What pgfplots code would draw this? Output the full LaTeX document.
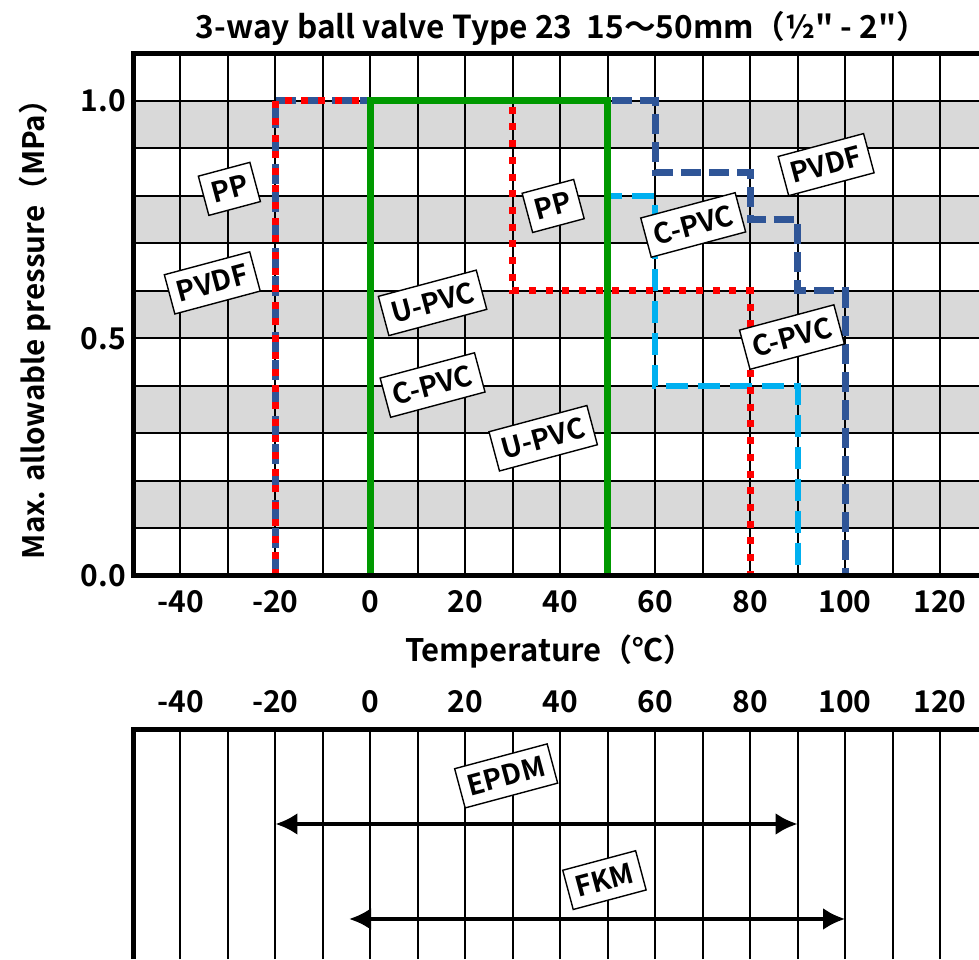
\documentclass[border=0pt]{standalone}
\usepackage{fontspec}
\setmainfont{Noto Sans CJK JP}[BoldFont={Noto Sans CJK JP Bold}, Ligatures=TeXOff]
\usepackage{pgfplots}
\pgfplotsset{compat=1.18}
\usetikzlibrary{arrows.meta}
\definecolor{pvdf}{RGB}{47,85,151}
\definecolor{cpvc}{RGB}{0,176,240}
\definecolor{upvc}{RGB}{0,153,0}
\definecolor{band}{RGB}{217,217,217}
\tikzset{lbl/.style={rotate=15, fill=white, draw=black, line width=0.7pt,
  font=\fontsize{14}{16}\selectfont\bfseries, inner xsep=4pt, inner ysep=5pt,
  text height=10.3pt, text depth=0pt}}
\begin{document}
\begin{tikzpicture}
\pgfplotsset{
  common/.style={scale only axis, width=423pt, xmin=-50, xmax=128.2,
    xtick={-40,-20,...,120}, minor xtick={-50,-30,...,130},
    major tick length=0pt, minor tick length=0pt,
    axis line style={draw=none}, clip=false, set layers,
    major grid style={black, line width=1pt},
    minor grid style={black, line width=1pt},
    tick label style={font=\fontsize{15}{17}\selectfont\bfseries},
    /pgf/number format/assume math mode=true}
}
% ---------- top axis ----------
\begin{axis}[common, height=261.25pt, at={(66.5pt,191.5pt)}, anchor=south west,
  ymin=0, ymax=1.1, ytick={0,0.5,1}, minor ytick={0.1,0.2,0.3,0.4,0.6,0.7,0.8,0.9},
  grid=both, xticklabel style={yshift=-3.5pt},
  yticklabel style={/pgf/number format/.cd, fixed, fixed zerofill, precision=1}]
\begin{pgfonlayer}{axis background}
\fill[band] (axis cs:-50,0.1) rectangle (axis cs:128.2,0.2);
\fill[band] (axis cs:-50,0.3) rectangle (axis cs:128.2,0.4);
\fill[band] (axis cs:-50,0.5) rectangle (axis cs:128.2,0.6);
\fill[band] (axis cs:-50,0.7) rectangle (axis cs:128.2,0.8);
\fill[band] (axis cs:-50,0.9) rectangle (axis cs:128.2,1.0);
\end{pgfonlayer}
% PVDF
\addplot[pvdf, line width=3.5pt, dash pattern=on 10pt off 4pt] coordinates
  {(-20,0) (-20,1.0) (60,1.0) (60,0.85) (80,0.85) (80,0.75) (90,0.75) (90,0.6) (100,0.6) (100,0)};
% C-PVC
\addplot[cpvc, line width=3pt, dash pattern=on 11pt off 5pt] coordinates
  {(0,0) (0,1.0) (50,1.0) (50,0.8) (60,0.8) (60,0.4) (90,0.4) (90,0)};
% PP
\addplot[red, line width=3.5pt, dash pattern=on 3.5pt off 4.85pt] coordinates
  {(-20,0) (-20,1.0) (30,1.0) (30,0.6) (80,0.6) (80,0)};
% U-PVC
\addplot[upvc, line width=3.5pt] coordinates
  {(0,0) (0,1.0) (50,1.0) (50,0)};
\draw[line width=2.5pt, line join=miter] (rel axis cs:1,1) -- (rel axis cs:0,1) -- (rel axis cs:0,0) -- (rel axis cs:1,0);
\node[lbl] at (axis cs:-29.7,0.815) {PP};
\node[lbl] at (axis cs:-33.3,0.617) {PVDF};
\node[lbl] at (axis cs:13.1,0.575) {U-PVC};
\node[lbl] at (axis cs:13.1,0.402) {C-PVC};
\node[lbl] at (axis cs:38.5,0.779) {PP};
\node[lbl] at (axis cs:68,0.739) {C-PVC};
\node[lbl] at (axis cs:96,0.866) {PVDF};
\node[lbl] at (axis cs:88.8,0.503) {C-PVC};
\node[lbl] at (axis cs:36.4,0.29) {U-PVC};
\end{axis}
% ---------- bottom axis ----------
\begin{axis}[common, height=115pt, at={(66.5pt,0pt)}, anchor=south west,
  ymin=0, ymax=1, ytick=\empty, xmajorgrids, xminorgrids, xticklabel pos=upper,
  xticklabel style={yshift=4.5pt}]
\addplot[black, line width=2pt, {Latex[length=11pt,width=11pt]}-{Latex[length=11pt,width=11pt]}]
  coordinates {(-20,0.587) (90,0.587)};
\addplot[black, line width=2pt, {Latex[length=11pt,width=11pt]}-{Latex[length=11pt,width=11pt]}]
  coordinates {(-4.5,0.174) (100,0.174)};
\draw[line width=2.5pt, line join=miter] (rel axis cs:0,0) -- (rel axis cs:0,1) -- (rel axis cs:1,1);
\node[lbl] at (axis cs:28.6,0.796) {EPDM};
\node[lbl] at (axis cs:49.3,0.343) {FKM};
\end{axis}
% ---------- texts ----------
\node[font=\fontsize{15.8}{18}\selectfont\bfseries] at (281pt,465.5pt)
  {3-way ball valve Type 23\ \ 15～50mm（½" - 2"）};
\node[font=\fontsize{15.5}{18}\selectfont\bfseries] at (275pt,153.5pt) {Temperature（℃）};
\node[font=\fontsize{14.8}{17}\selectfont\bfseries, rotate=90] at (17.5pt,318.5pt)
  {Max. allowable pressure（MPa）};
\pgfresetboundingbox
\useasboundingbox (0,0) rectangle (489.5pt,479.5pt);
\end{tikzpicture}
\end{document}
